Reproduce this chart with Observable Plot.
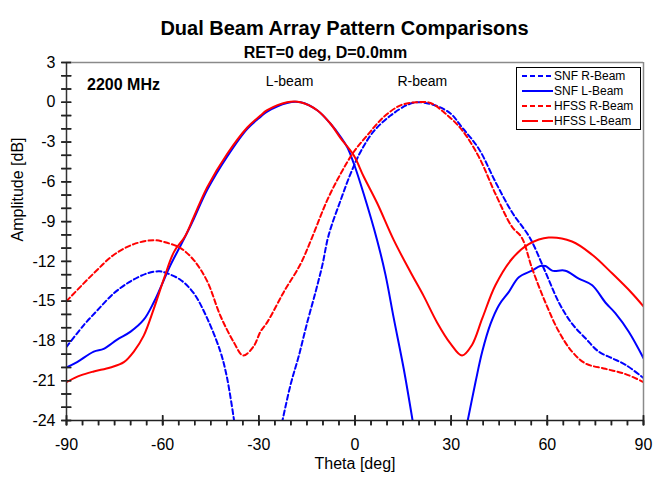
<!DOCTYPE html>
<html><head><meta charset="utf-8">
<script src="https://cdn.jsdelivr.net/npm/d3@7"></script>
<script src="https://cdn.jsdelivr.net/npm/@observablehq/plot@0.6"></script>
<style>
body{margin:0;background:#fff;font-family:"Liberation Sans",Arial,sans-serif;color:#000}
#wrap{position:relative;width:653px;height:478px;}
#legend{position:absolute;left:516px;top:67px;width:123px;height:61px;border:1px solid #000;background:#fff;font-size:12px;}
.row{height:15px;display:flex;align-items:center;}
.sample{flex:none;display:inline-block;width:31px;height:2px;margin-left:5px;margin-right:1px;}
</style></head>
<body><div id="wrap">
<div id="chart"></div>
<div id="legend"></div>
</div>
<script>
const titleText = "Dual Beam Array Pattern Comparisons";
const subtitleText = "RET=0 deg, D=0.0mm";
const xLabel = "Theta [deg]";
const yLabel = "Amplitude [dB]";
const xTicks = [-90, -60, -30, 0, 30, 60, 90];
const xMinorTicks = d3.range(-90, 91, 5);
const yTicks = [3, 0, -3, -6, -9, -12, -15, -18, -21, -24];
const yMinorTicks = d3.range(-24, 4, 1);

// [theta (deg), amplitude (dB)]
const snfR = [[-90,-18.45],[-84.6,-16.8],[-80.4,-15.7],[-75.2,-14.4],[-70,-13.5],[-64.8,-12.9],[-61,-12.75],[-58.6,-12.9],[-54.4,-13.4],[-50.3,-14.4],[-46.1,-16.3],[-42,-18.8],[-39.9,-20.8],[-37.6,-24.2],[-30,NaN],
  [-22.8,-24.2],[-20.1,-21.3],[-17.5,-19.1],[-14.9,-16.6],[-12.3,-14.3],[-10.2,-12.3],[-8.2,-10.0],[-4.5,-7.4],[-1.4,-5.4],[1.7,-3.75],[5.8,-2.2],[11.1,-1.0],[16.3,-0.2],[19.4,0],[24.6,-0.2],[29.8,-0.85],[33.4,-1.9],[38.6,-3.5],[43.8,-6.0],[49,-8.3],[54.5,-10.2],[59.4,-12.8],[63.6,-15.1],[67.7,-16.7],[71.9,-17.8],[76,-18.8],[80.2,-19.3],[84.4,-19.8],[90,-20.8]];
const snfL = [[-90,-20.0],[-86.7,-19.6],[-81.5,-18.8],[-78.4,-18.6],[-74.2,-17.9],[-70,-17.3],[-65.9,-16.4],[-62.8,-15.1],[-60.7,-14.0],[-57.6,-12.3],[-54.4,-10.8],[-52.5,-9.9],[-50.3,-8.8],[-46.1,-6.6],[-39.9,-4.1],[-33.6,-2.0],[-29.5,-1.1],[-27.4,-0.7],[-21.2,-0.05],[-17,0],[-11.8,-0.6],[-7.7,-1.6],[-4.5,-2.6],[-2.4,-3.4],[-0.4,-4.6],[2.7,-6.9],[6.9,-10.4],[9.5,-13.0],[12.1,-16.3],[15.2,-20.1],[18.1,-24.2],[26,NaN],
  [35,-24.2],[37.6,-21.1],[39.7,-18.8],[42.3,-16.7],[44.9,-15.3],[48,-14.3],[51.1,-13.2],[55.2,-12.7],[57.8,-12.35],[59.4,-12.35],[61.5,-12.7],[65.6,-12.7],[69.8,-13.3],[74,-13.8],[78.1,-15.1],[81.2,-15.9],[85.4,-17.3],[90,-19.3]];
const hfssR = [[-90,-15.0],[-81.5,-12.9],[-75.2,-11.5],[-69,-10.7],[-62.8,-10.4],[-58.6,-10.6],[-54.4,-11.0],[-50.3,-11.9],[-46.1,-13.5],[-42,-16.1],[-37.8,-18.1],[-34.9,-19.1],[-31.6,-18.4],[-29.5,-17.3],[-27.4,-16.6],[-22.2,-14.3],[-17,-12.2],[-13.4,-10.2],[-8.7,-7.4],[-4.5,-5.4],[-0.4,-3.75],[3.8,-2.5],[9,-1.1],[14.2,-0.23],[19,0],[23.5,-0.05],[28.2,-0.85],[33.4,-2.1],[38.6,-4.1],[43.8,-6.9],[49,-9.4],[52,-10.2],[55.2,-12.5],[59.4,-15.1],[63.6,-17.3],[67.7,-18.8],[71.9,-19.7],[78.1,-20.1],[84.4,-20.5],[90,-21.1]];
const hfssL = [[-90,-21.1],[-85.6,-20.6],[-81.5,-20.3],[-76.3,-20.0],[-72.1,-19.6],[-69,-18.8],[-65.9,-17.6],[-62.8,-15.6],[-59.6,-13.3],[-56.5,-11.3],[-53,-10.1],[-50.3,-8.65],[-46.1,-6.4],[-39.9,-3.9],[-33.6,-1.9],[-29.5,-1.0],[-27.4,-0.6],[-21.2,0],[-17,0],[-11.8,-0.6],[-7.7,-1.6],[-4.5,-2.7],[-0.4,-4.0],[2.7,-5.6],[6.9,-7.6],[12.1,-10.4],[17.3,-12.8],[21.4,-14.6],[25.6,-16.6],[29.8,-18.2],[33.4,-19.1],[36.5,-18.3],[39.7,-16.3],[43.8,-13.8],[49,-11.8],[54.2,-10.7],[60.4,-10.2],[67.7,-10.5],[74,-11.5],[80.2,-12.9],[86.4,-14.4],[90,-15.4]];

const seriesNames = ["SNF R-Beam", "SNF L-Beam", "HFSS R-Beam", "HFSS L-Beam"];
const seriesColors = ["#0000ff", "#0000ff", "#ff0000", "#ff0000"];
const seriesDash = ["5,3", null, "5,3", null];
const legendDash = [[5, 3], null, [5, 3], [16, 4]];
const freqNote = [{label: "2200 MHz", theta: -83.6, db: 1.35}];
const beamNotes = [{label: "L-beam", theta: -20.4, db: 1.6}, {label: "R-beam", theta: 21.0, db: 1.6}];

const W = 653, H = 478, ML = 66, MR = 10, MT = 62, MB = 58;
const FW = W - ML - MR, FH = H - MT - MB;
const xDom = [-90, 90], yDom = [-24, 3];
// tick half-lengths (5px) expressed in data units
const tx = 5 * (xDom[1] - xDom[0]) / FW;
const ty = 5 * (yDom[1] - yDom[0]) / FH;

const seriesData = [snfR, snfL, hfssR, hfssL];
const lineMarks = seriesData.map((s, i) => Plot.line(s, {
  x: d => d[0], y: d => d[1], stroke: seriesColors[i], strokeWidth: 2,
  strokeDasharray: seriesDash[i], curve: "catmull-rom", clip: true
}));

const tickStyle = {stroke: "#222", strokeWidth: 1.5};
const tickMarks = [
  Plot.link(yMinorTicks, {x1: xDom[0] - tx, x2: xDom[0] + tx, y1: d => d, y2: d => d, ...tickStyle}),
  Plot.link(xMinorTicks, {x1: d => d, x2: d => d, y1: yDom[0], y2: yDom[0] - ty, ...tickStyle}),
  Plot.link(xTicks, {x1: d => d, x2: d => d, y1: yDom[0] + ty, y2: yDom[0] - ty, ...tickStyle})
];

const font = '"Liberation Sans", Arial, sans-serif';
const chart = Plot.plot({
  width: W, height: H,
  marginLeft: ML, marginRight: MR, marginTop: MT, marginBottom: MB,
  style: {fontFamily: font, color: "#000"},
  x: {domain: xDom, label: null},
  y: {domain: yDom, label: null},
  marks: [
    ...tickMarks,
    ...lineMarks,
    Plot.ruleY([yDom[1]], {stroke: "#8a8a8a", strokeWidth: 1.5}),
    Plot.ruleX([xDom[1]], {stroke: "#8a8a8a", strokeWidth: 1.5}),
    Plot.ruleX([xDom[0]], {stroke: "#333", strokeWidth: 1.5}),
    Plot.ruleY([yDom[0]], {stroke: "#222", strokeWidth: 1.5}),
    Plot.ruleY(yMinorTicks, {y: d => d, x1: xDom[0] - tx, x2: xDom[0] + tx, ...tickStyle}),
    Plot.ruleX(xMinorTicks, {x: d => d, y1: yDom[0], y2: yDom[0] - ty, ...tickStyle}),
    Plot.ruleX(xTicks, {x: d => d, y1: yDom[0] + ty, y2: yDom[0] - ty, ...tickStyle}),
    Plot.axisY({ticks: yTicks, tickSize: 0, tickPadding: 11, fontSize: 16, label: null, tickFormat: d => String(d)}),
    Plot.axisX({ticks: xTicks, tickSize: 0, tickPadding: 18, fontSize: 16, label: null, tickFormat: d => String(d)}),
    Plot.text([titleText], {frameAnchor: "top", dx: -10.5, dy: -42, fontSize: 20, fontWeight: "bold"}),
    Plot.text([subtitleText], {frameAnchor: "top", dx: -29.5, dy: -16, fontSize: 16, fontWeight: "bold"}),
    Plot.text([yLabel], {frameAnchor: "left", dx: -49, rotate: -90, fontSize: 16}),
    Plot.text([xLabel], {frameAnchor: "bottom", dy: 48, fontSize: 16}),
    Plot.text(freqNote, {x: "theta", y: "db", text: "label", textAnchor: "start", fontWeight: "bold", fontSize: 16}),
    Plot.text(beamNotes, {x: "theta", y: "db", text: "label", fontSize: 14})
  ]
});
document.getElementById("chart").appendChild(chart);

const leg = document.getElementById("legend");
seriesNames.forEach((name, i) => {
  const row = document.createElement("div");
  row.className = "row";
  const sample = document.createElement("span");
  sample.className = "sample";
  const dash = legendDash[i];
  sample.style.background = dash
    ? `repeating-linear-gradient(to right, ${seriesColors[i]} 0 ${dash[0]}px, transparent ${dash[0]}px ${dash[0] + dash[1]}px)`
    : seriesColors[i];
  row.appendChild(sample);
  const span = document.createElement("span");
  span.textContent = name;
  row.appendChild(span);
  leg.appendChild(row);
});
</script>
</body></html>
